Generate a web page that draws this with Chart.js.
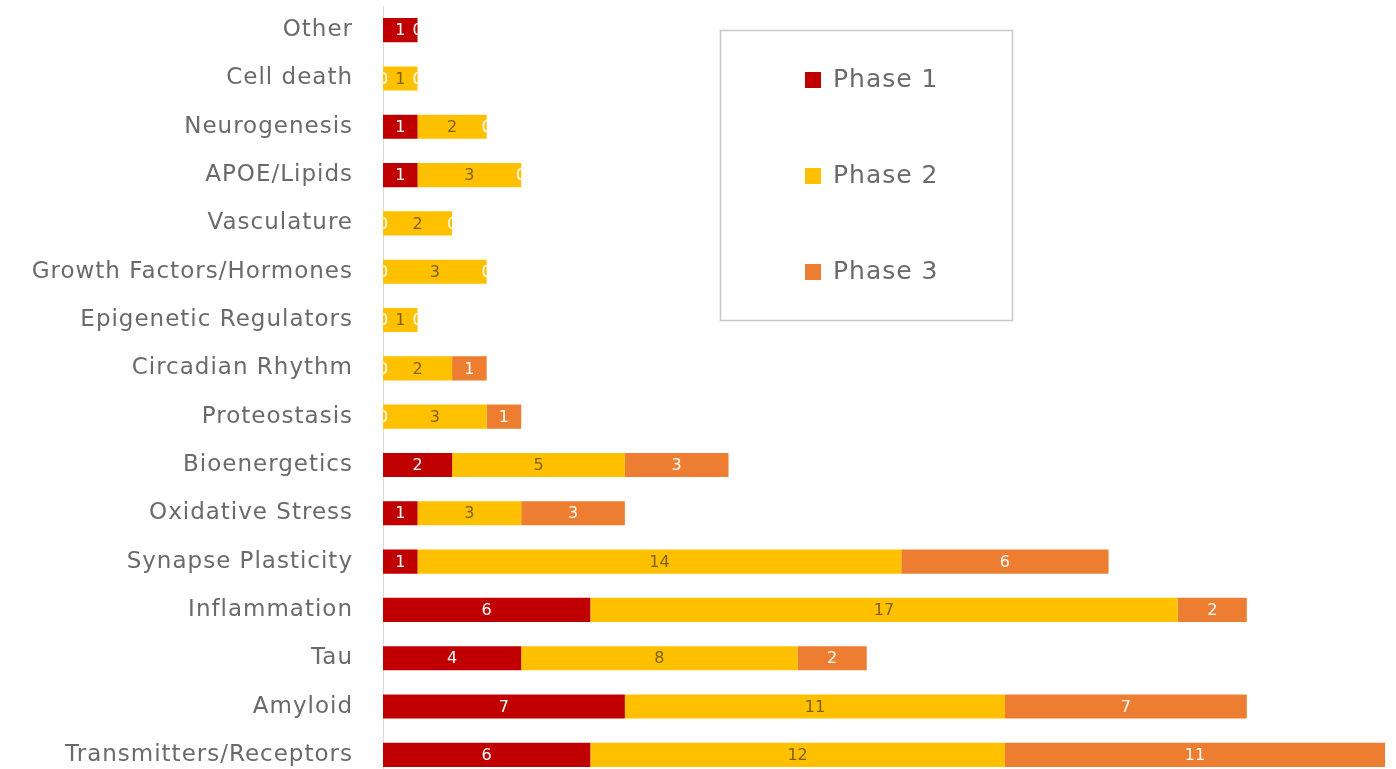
<!DOCTYPE html>
<html>
<head>
<meta charset="utf-8">
<script src="https://cdn.jsdelivr.net/npm/chart.js@4.4.0/dist/chart.umd.min.js"></script>
<style>
html,body{margin:0;padding:0;background:#fff;overflow:hidden;}
</style>
</head>
<body>
<canvas id="chart" width="1396" height="780"></canvas>
<script>
const categories = ["Other","Cell death","Neurogenesis","APOE/Lipids","Vasculature","Growth Factors/Hormones","Epigenetic Regulators","Circadian Rhythm","Proteostasis","Bioenergetics","Oxidative Stress","Synapse Plasticity","Inflammation","Tau","Amyloid","Transmitters/Receptors"];
const phase1 = [1,0,1,1,0,0,0,0,0,2,1,1,6,4,7,6];
const phase2 = [null,1,2,3,2,3,1,2,3,5,3,14,17,8,11,12];
const phase3 = [0,0,0,0,0,0,0,1,1,3,3,6,2,2,7,11];
const seriesNames = ["Phase 1","Phase 2","Phase 3"];
const colors = ["#c00000","#ffc000","#ed7d31"];
const labelColors = ["#ffffff","#7f6000","#ffffff"];

const FONT = "'DejaVu Sans', sans-serif";

// a bit of tracking on the category names
const spacing = {
  id:"spacing",
  beforeDraw(chart){ chart.ctx.letterSpacing = "1px"; },
  afterDraw(chart){ chart.ctx.letterSpacing = "0px"; }
};

// numbers in the middle of each segment
const barLabels = {
  id:"barLabels",
  afterDatasetsDraw(chart){
    const ctx = chart.ctx;
    ctx.save();
    ctx.letterSpacing = "0px";
    ctx.font = "16px " + FONT;
    ctx.textAlign = "center";
    ctx.textBaseline = "middle";
    chart.data.datasets.forEach((ds,i)=>{
      const meta = chart.getDatasetMeta(i);
      meta.data.forEach((bar,j)=>{
        const v = ds.data[j];
        if(v===null) return;
        ctx.fillStyle = labelColors[i];
        ctx.fillText(String(v), (bar.x+bar.base)/2, bar.y+1);
      });
    });
    ctx.restore();
  }
};

// boxed legend sitting inside the plot
const boxLegend = {
  id:"boxLegend",
  afterDraw(chart){
    const ctx = chart.ctx;
    ctx.save();
    ctx.letterSpacing = "1px";
    ctx.strokeStyle = "#c8c8c8";
    ctx.lineWidth = 1.5;
    ctx.strokeRect(720.5,30.5,292,290);
    ctx.font = "25px " + FONT;
    ctx.textBaseline = "middle";
    ctx.textAlign = "left";
    const ys = [80,176,272];
    chart.data.datasets.forEach((ds,i)=>{
      ctx.fillStyle = ds.backgroundColor;
      ctx.fillRect(805, ys[i]-8, 16, 16);
      ctx.fillStyle = "#6a6a6a";
      ctx.fillText(ds.label, 833, ys[i]);
    });
    ctx.restore();
  }
};

new Chart(document.getElementById("chart"),{
  type:"bar",
  data:{
    labels:categories,
    datasets:[phase1,phase2,phase3].map((d,i)=>({
      label:seriesNames[i],
      data:d,
      backgroundColor:colors[i],
      borderWidth:0,
      categoryPercentage:1,
      barPercentage:0.5
    }))
  },
  options:{
    indexAxis:"y",
    responsive:false,
    animation:false,
    layout:{padding:{top:6,right:11,bottom:1,left:0}},
    plugins:{legend:{display:false},tooltip:{enabled:false}},
    scales:{
      x:{stacked:true,display:false,min:0,max:29},
      y:{
        stacked:true,
        grid:{display:false},
        border:{display:true,color:"#d9d9d9",width:1},
        ticks:{color:"#6a6a6a",font:{family:FONT,size:23},padding:22},
        afterFit(scale){
          scale.width = 383;
          scale.paddingTop = 0;
          scale.paddingBottom = 0;
        }
      }
    }
  },
  plugins:[spacing,barLabels,boxLegend]
});
</script>
</body>
</html>
